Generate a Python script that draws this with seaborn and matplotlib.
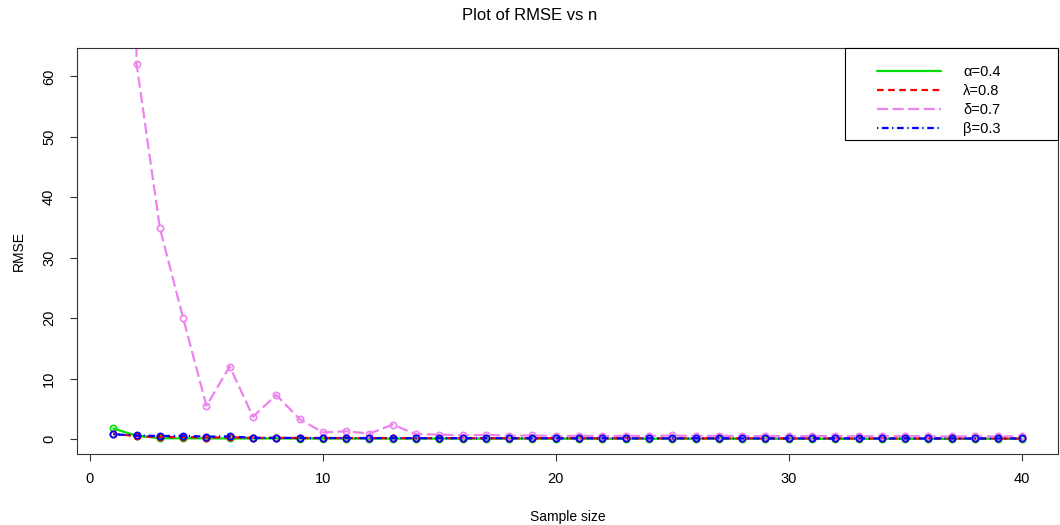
import numpy as np
import pandas as pd
import matplotlib
matplotlib.use("Agg")
import matplotlib.pyplot as plt
from matplotlib.lines import Line2D
from matplotlib.patches import Rectangle
import seaborn as sns

# sample sizes and RMSE values
n = list(range(1, 41))
alpha_rmse = [1.75, 0.55, 0.15, 0.12, 0.12, 0.10, 0.10, 0.10, 0.09, 0.09,
              0.09, 0.08, 0.08, 0.08, 0.08, 0.07, 0.07, 0.07, 0.07, 0.07,
              0.07, 0.06, 0.06, 0.06, 0.06, 0.06, 0.06, 0.06, 0.06, 0.05,
              0.05, 0.05, 0.05, 0.05, 0.05, 0.05, 0.05, 0.05, 0.05, 0.05]
lambda_rmse = [0.85, 0.50, 0.30, 0.35, 0.25, 0.30, 0.20, 0.20, 0.18, 0.18,
               0.17, 0.17, 0.16, 0.16, 0.15, 0.15, 0.15, 0.14, 0.14, 0.14,
               0.14, 0.13, 0.13, 0.13, 0.13, 0.13, 0.12, 0.12, 0.12, 0.12,
               0.12, 0.12, 0.11, 0.11, 0.11, 0.11, 0.11, 0.11, 0.11, 0.10]
delta_rmse = [750.0, 62.1, 34.9, 20.0, 5.5, 12.0, 3.7, 7.3, 3.3, 1.1,
              1.3, 0.9, 2.4, 0.8, 0.75, 0.6, 0.7, 0.55, 0.6, 0.5,
              0.55, 0.5, 0.55, 0.5, 0.6, 0.5, 0.55, 0.5, 0.5, 0.5,
              0.5, 0.5, 0.45, 0.5, 0.5, 0.45, 0.45, 0.45, 0.45, 0.45]
beta_rmse = [0.78, 0.60, 0.50, 0.55, 0.40, 0.45, 0.20, 0.20, 0.18, 0.17,
             0.17, 0.16, 0.16, 0.15, 0.15, 0.14, 0.14, 0.14, 0.13, 0.13,
             0.13, 0.13, 0.12, 0.12, 0.12, 0.12, 0.12, 0.11, 0.11, 0.11,
             0.11, 0.11, 0.11, 0.10, 0.10, 0.10, 0.10, 0.10, 0.10, 0.10]

labels = ["α=0.4", "λ=0.8", "δ=0.7", "β=0.3"]
colors = ["#00DD00", "#FF0000", "#EE82EE", "#0000FF"]
dashes = [(None, None), (3, 2), (5, 2), (0.6, 1.6, 3, 1.6)]

sns.set_style("white")
plt.rcParams['font.family'] = ['Liberation Sans', 'DejaVu Sans']
plt.rcParams['text.color'] = 'black'
plt.rcParams['axes.labelcolor'] = 'black'
plt.rcParams['xtick.color'] = 'black'
plt.rcParams['ytick.color'] = 'black'

fig = plt.figure(figsize=(10.6, 5.25), dpi=100)
ax = fig.add_axes([0.0726, 0.135, 0.9254, 0.7736])

series = [alpha_rmse, lambda_rmse, delta_rmse, beta_rmse]
for vals, col, ds in zip(series, colors, dashes):
    ls = '-' if ds[0] is None else (0, ds)
    sns.lineplot(x=n, y=vals, ax=ax, color=col, linestyle=ls, lw=1.6,
                 marker='o', markersize=4.5, markerfacecolor='none',
                 markeredgecolor=col, markeredgewidth=1.2, legend=False)

ax.set_xlim(-0.56, 41.56)
ax.set_ylim(-2.49, 64.7)
ax.set_xticks([0, 10, 20, 30, 40])
ax.set_yticks([0, 10, 20, 30, 40, 50, 60])
ax.tick_params(axis='both', direction='out', length=5, width=0.8,
               color='#333333', labelcolor='black', labelsize=10.5,
               bottom=True, left=True)
ax.tick_params(axis='x', pad=8)
ax.tick_params(axis='y', pad=10)
for lab in ax.get_yticklabels():
    lab.set_rotation(90)
    lab.set_va('center')
for sp in ax.spines.values():
    sp.set_color('#333333')
    sp.set_linewidth(0.8)

ax.set_xlabel("Sample size", fontsize=10, labelpad=17)
ax.set_ylabel("RMSE", fontsize=10, labelpad=12)
fig.suptitle("Plot of RMSE vs n", fontsize=12, y=0.985)

# R-style legend box at the top right
ax.add_patch(Rectangle((0.783, 0.773), 0.217, 0.227, transform=ax.transAxes,
                       facecolor='white', edgecolor='black', lw=0.8,
                       clip_on=False, zorder=5))
handles = []
for col, ds in zip(colors, dashes):
    ls = '-' if ds[0] is None else (0, ds)
    handles.append(Line2D([], [], color=col, lw=1.6, linestyle=ls))
leg = ax.legend(handles, labels, loc='upper left', bbox_to_anchor=(0.808, 0.975),
                frameon=False, borderpad=0, handlelength=4.4, handletextpad=1.5,
                labelspacing=0.33, fontsize=10.5)
leg.set_zorder(6)

fig.savefig("out.png", dpi=100)
